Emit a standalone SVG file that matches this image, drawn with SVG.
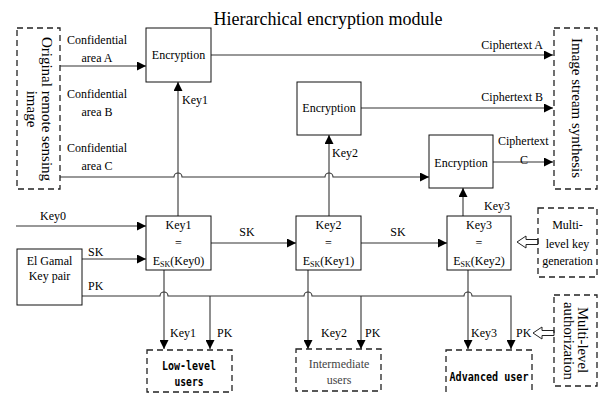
<svg xmlns="http://www.w3.org/2000/svg" width="605" height="394" viewBox="0 0 605 394">
<defs>
<marker id="ah" viewBox="0 0 10 10" refX="10" refY="5" markerWidth="9" markerHeight="9" markerUnits="userSpaceOnUse" orient="auto">
<path d="M0,0 L10,5 L0,10 z" fill="#000"/>
</marker>
</defs>
<style>
text{font-family:"Liberation Serif","Times New Roman",serif;font-size:12px;fill:#000}
.t{font-size:18px}
.r{font-size:15px}
.m{font-family:"DejaVu Sans Mono","Liberation Mono",monospace;font-weight:bold;font-size:13px}
.box{fill:#fff;stroke:#111;stroke-width:1}
.dash{fill:none;stroke:#222;stroke-width:1.3;stroke-dasharray:6,4}
.ln{fill:none;stroke:#333;stroke-width:1.1}
.arr{marker-end:url(#ah)}
.hol{fill:#fff;stroke:#222;stroke-width:1}
.c{text-anchor:middle}
.e{text-anchor:end}
</style>
<rect width="605" height="394" fill="#fff"/>
<text class="t c" x="328" y="25">Hierarchical encryption module</text>

<g id="connectors">
<path class="ln arr" d="M60,66 H146"/>
<path class="ln arr" d="M211,55 H553"/>
<path class="ln arr" d="M361,108 H553"/>
<path class="ln arr" d="M493,162 H553"/>
<path class="ln arr" d="M60,177 H174 A4,4 0 0 1 182,177 H325 A4,4 0 0 1 333,177 H429"/>
<path class="ln arr" d="M178,216 V82"/>
<path class="ln arr" d="M329,216 V135"/>
<path class="ln arr" d="M463,216 V188"/>
<path class="ln arr" d="M16,226 H146"/>
<path class="ln arr" d="M82,259 H146"/>
<path class="ln arr" d="M211,243 H296"/>
<path class="ln arr" d="M361,243 H447"/>
<path class="ln arr" d="M82,296 H160 A4,4 0 0 1 168,296 H304 A4,4 0 0 1 312,296 H464 A4,4 0 0 1 472,296 H511 V349"/>
<path class="ln arr" d="M164,270 V349"/>
<path class="ln arr" d="M210,296 V349"/>
<path class="ln arr" d="M308,270 V349"/>
<path class="ln arr" d="M361,296 V349"/>
<path class="ln arr" d="M468,270 V349"/>
<polygon class="hol" points="517,242 526,236 526,239.5 538,239.5 538,244.5 526,244.5 526,248"/>
<polygon class="hol" points="533,333 542,327 542,330.5 554,330.5 554,335.5 542,335.5 542,339"/>
</g>

<g id="labels">
<text class="c" x="97" y="44">Confidential</text>
<text class="c" x="97" y="62">area A</text>
<text class="c" x="97" y="98">Confidential</text>
<text class="c" x="97" y="116">area B</text>
<text class="c" x="97" y="152">Confidential</text>
<text class="c" x="97" y="170">area C</text>
<text x="182" y="104">Key1</text>
<text x="332" y="157">Key2</text>
<text x="484" y="210">Key3</text>
<text class="e" x="543" y="49">Ciphertext A</text>
<text class="e" x="543" y="101">Ciphertext B</text>
<text x="498" y="145">Ciphertext</text>
<text class="c" x="524" y="164">C</text>
<text class="c" x="53" y="220">Key0</text>
<text x="88" y="256">SK</text>
<text x="88" y="290">PK</text>
<text class="c" x="247" y="236">SK</text>
<text class="c" x="398" y="236">SK</text>
<text x="170" y="337">Key1</text>
<text x="217" y="337">PK</text>
<text x="321" y="337">Key2</text>
<text x="365" y="337">PK</text>
<text x="471" y="337">Key3</text>
<text x="516" y="337">PK</text>
</g>

<g id="original-image">
<rect class="dash" x="17" y="28" width="43" height="161"/>
<text class="r c" transform="translate(46,109) rotate(90)" x="0" y="4.5">Original remote sensing</text>
<text class="r c" transform="translate(31,109) rotate(90)" x="0" y="4.5">image</text>
</g>

<g id="image-stream">
<rect class="dash" x="554" y="28" width="43" height="161"/>
<text class="r c" transform="translate(576,108) rotate(90)" x="0" y="4.5">Image stream synthesis</text>
</g>

<g id="enc1">
<rect class="box" x="146" y="28" width="65" height="54"/>
<text class="c" x="178.5" y="59">Encryption</text>
</g>
<g id="enc2">
<rect class="box" x="297" y="82" width="64" height="53"/>
<text class="c" x="329" y="112">Encryption</text>
</g>
<g id="enc3">
<rect class="box" x="429" y="135" width="64" height="53"/>
<text class="c" x="461" y="167">Encryption</text>
</g>

<g id="key1">
<rect class="box" x="146" y="216" width="65" height="54"/>
<text class="c" x="178.5" y="229">Key1</text>
<text class="c" x="178.5" y="247">=</text>
<text class="c" x="178.5" y="265">E<tspan font-size="8" dy="2">SK</tspan><tspan dy="-2">(Key0)</tspan></text>
</g>
<g id="key2">
<rect class="box" x="296" y="216" width="65" height="54"/>
<text class="c" x="328.5" y="229">Key2</text>
<text class="c" x="328.5" y="247">=</text>
<text class="c" x="328.5" y="265">E<tspan font-size="8" dy="2">SK</tspan><tspan dy="-2">(Key1)</tspan></text>
</g>
<g id="key3">
<rect class="box" x="447" y="216" width="64" height="54"/>
<text class="c" x="479" y="229">Key3</text>
<text class="c" x="479" y="247">=</text>
<text class="c" x="479" y="265">E<tspan font-size="8" dy="2">SK</tspan><tspan dy="-2">(Key2)</tspan></text>
</g>

<g id="elgamal">
<rect class="box" x="17" y="249" width="65" height="56"/>
<text class="c" x="49.5" y="265">El Gamal</text>
<text class="c" x="49.5" y="280">Key pair</text>
</g>

<g id="key-generation">
<rect class="dash" x="538" y="208" width="59" height="69"/>
<text class="c" x="567.5" y="229">Multi-</text>
<text class="c" x="567.5" y="248">level key</text>
<text class="c" x="567.5" y="265">generation</text>
</g>

<g id="authorization">
<rect class="dash" x="554" y="295" width="43" height="91"/>
<text class="r c" transform="translate(582,340) rotate(90)" x="0" y="4.5" textLength="66" lengthAdjust="spacingAndGlyphs">Multi-level</text>
<text class="r c" transform="translate(568,341) rotate(90)" x="0" y="4.5" textLength="78" lengthAdjust="spacingAndGlyphs">authorization</text>
</g>

<g id="low-level">
<rect class="dash" x="147" y="350" width="85" height="42"/>
<text class="m c" x="189" y="370" textLength="54" lengthAdjust="spacingAndGlyphs">Low-level</text>
<text class="m c" x="189" y="386" textLength="29" lengthAdjust="spacingAndGlyphs">users</text>
</g>

<g id="intermediate">
<rect class="dash" x="296" y="349" width="85" height="42"/>
<text class="c" x="339" y="368" style="fill:#444">Intermediate</text>
<text class="c" x="339" y="384" style="fill:#444">users</text>
</g>

<g id="advanced">
<rect class="dash" x="446" y="350" width="86" height="60"/>
<text class="m c" x="489" y="381" textLength="79" lengthAdjust="spacingAndGlyphs">Advanced user</text>
</g>
</svg>
